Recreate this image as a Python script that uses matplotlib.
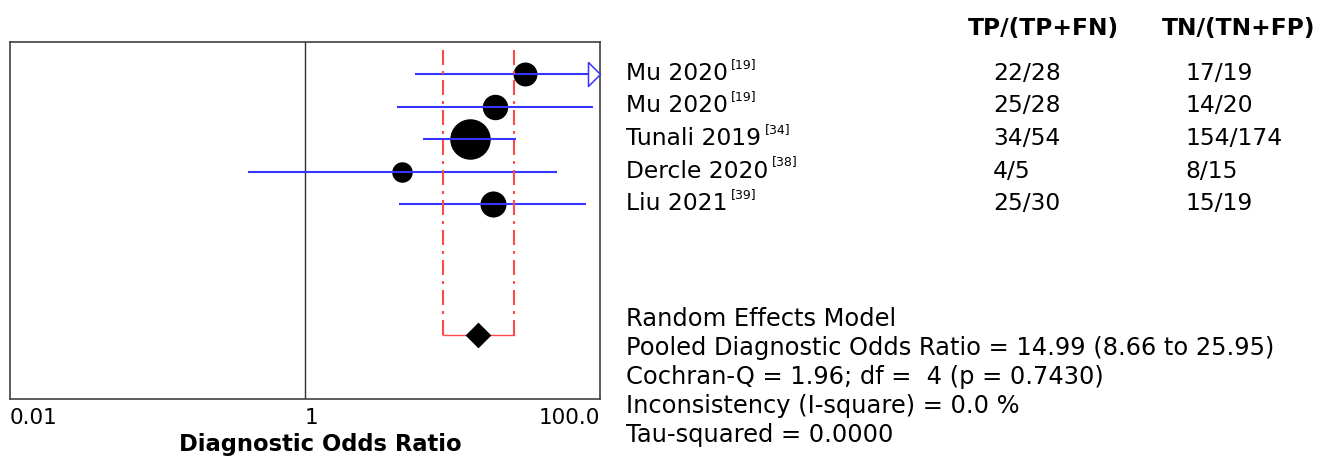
import numpy as np
import matplotlib
matplotlib.use("Agg")
import matplotlib.pyplot as plt
from matplotlib.transforms import blended_transform_factory

# ---------------- data ----------------
studies = ["Mu 2020", "Mu 2020", "Tunali 2019", "Dercle 2020", "Liu 2021"]
refs = ["[19]", "[19]", "[34]", "[38]", "[39]"]
tp = np.array([22, 25, 34, 4, 25])
n_pos = np.array([28, 28, 54, 5, 30])          # TP + FN
tn = np.array([17, 14, 154, 8, 15])
n_neg = np.array([19, 20, 174, 15, 19])        # TN + FP

pooled_dor = 14.99
pooled_lo = 8.66
pooled_hi = 25.95

col_headers = ["TP/(TP+FN)", "TN/(TN+FP)"]
stats_lines = [
    "Random Effects Model",
    "Pooled Diagnostic Odds Ratio = 14.99 (8.66 to 25.95)",
    "Cochran-Q = 1.96; df =  4 (p = 0.7430)",
    "Inconsistency (I-square) = 0.0 %",
    "Tau-squared = 0.0000",
]
x_ticks = [0.01, 1, 100]
x_ticklabels = ["0.01", "1", "100.0"]
x_label = "Diagnostic Odds Ratio"

# ---------------- derived ----------------
fn = n_pos - tp
fp = n_neg - tn
log_dor = np.log(tp * tn / (fn * fp))
se = np.sqrt(1 / tp + 1 / fn + 1 / tn + 1 / fp)
dor = np.exp(log_dor)
ci_lo = np.exp(log_dor - 1.96 * se)
ci_hi = np.exp(log_dor + 1.96 * se)
weights = 1 / se ** 2

# ---------------- figure ----------------
W, H = 1324, 463
fig = plt.figure(figsize=(W / 100, H / 100), dpi=100)
plt.rcParams["font.family"] = ["DejaVu Sans"]

ax_l, ax_r, ax_t, ax_b = 10, 600, 42.5, 399
ax = fig.add_axes([ax_l / W, 1 - ax_b / H, (ax_r - ax_l) / W, (ax_b - ax_t) / H])

rows = np.arange(len(studies))
pooled_row = 8
xmin, xmax = 0.01, 100
ax.set_xscale("log")
ax.set_xlim(xmin, xmax)
ax.set_ylim(9.97, -0.966)

blue = "#3535ff"
red = "#ff4a4a"

# line of no effect
ax.axvline(1, color="#303030", lw=1.0, zorder=1)

# study markers (size from weight)
diam_px = 12 + 10.5 * np.sqrt(weights)
for i in range(len(studies)):
    ax.plot(dor[i], rows[i], "o", ms=diam_px[i] * 0.72, color="black",
            mec="black", mew=0, zorder=2)

# confidence intervals
arrow = [(-1, 1), (0, 0), (-1, -1), (-1, 1)]
for i in range(len(studies)):
    hi = min(ci_hi[i], xmax)
    ax.plot([ci_lo[i], hi], [rows[i], rows[i]], color=blue, lw=1.5,
            solid_capstyle="butt", zorder=3)
    if ci_hi[i] > xmax:
        ax.plot(xmax, rows[i], marker=arrow, ms=17.3, mfc="white", mec=blue,
                mew=1.1, clip_on=False, zorder=4)

# pooled CI bracket
top_y = -0.74
dash = (0, (7.2, 2.9, 1.4, 2.9))
for xv in (pooled_lo, pooled_hi):
    ax.plot([xv, xv], [top_y, pooled_row], color=red, lw=1.5,
            linestyle=dash, zorder=3)
ax.plot([pooled_lo, pooled_hi], [pooled_row, pooled_row], color=red, lw=1.0,
        zorder=3)
diamond = [(0, 1), (1, 0), (0, -1), (-1, 0), (0, 1)]
ax.plot(pooled_dor, pooled_row, marker=diamond, ms=18.5, color="black",
        mew=0, zorder=5)

# axes styling
for s in ax.spines.values():
    s.set_color("#404040")
    s.set_linewidth(1.2)
ax.set_yticks([])
ax.minorticks_off()
ax.set_xticks(x_ticks)
ax.set_xticklabels(x_ticklabels, fontsize=15.5)
ax.tick_params(axis="x", length=0, pad=6.5)
for lbl, ha in zip(ax.get_xticklabels(), ["left", "left", "right"]):
    lbl.set_ha(ha)
ax.set_xlabel(x_label, fontsize=16.3, fontweight="bold", va="center")
ax.xaxis.set_label_coords((320 - ax_l) / (ax_r - ax_l), (ax_b - 445) / (ax_b - ax_t))

# right-hand table
tr = blended_transform_factory(fig.transFigure, ax.transData)
fs = 16.8
lab_x = 626 / W
col_x = [993 / W, 1185 / W]
hdr_x = [968 / W, 1162 / W]
for j, h in enumerate(col_headers):
    fig.text(hdr_x[j], 1 - 28 / H, h, fontsize=fs, fontweight="bold",
             ha="left", va="center")
for i in range(len(studies)):
    y = rows[i] - 0.02
    t = ax.text(lab_x, y, studies[i], transform=tr, fontsize=fs,
                ha="left", va="center")
    ax.annotate(refs[i], xy=(1, 1), xycoords=t, xytext=(2.5, 3),
                textcoords="offset points", fontsize=9, ha="left", va="top")
    ax.text(col_x[0], y, f"{tp[i]}/{n_pos[i]}", transform=tr, fontsize=fs,
            ha="left", va="center")
    ax.text(col_x[1], y, f"{tn[i]}/{n_neg[i]}", transform=tr, fontsize=fs,
            ha="left", va="center")

stat_y = [319, 348, 377, 406, 435]
for s, yp in zip(stats_lines, stat_y):
    fig.text(lab_x, 1 - yp / H, s, fontsize=17.4, ha="left", va="center")

fig.savefig("out.png", dpi=100)
